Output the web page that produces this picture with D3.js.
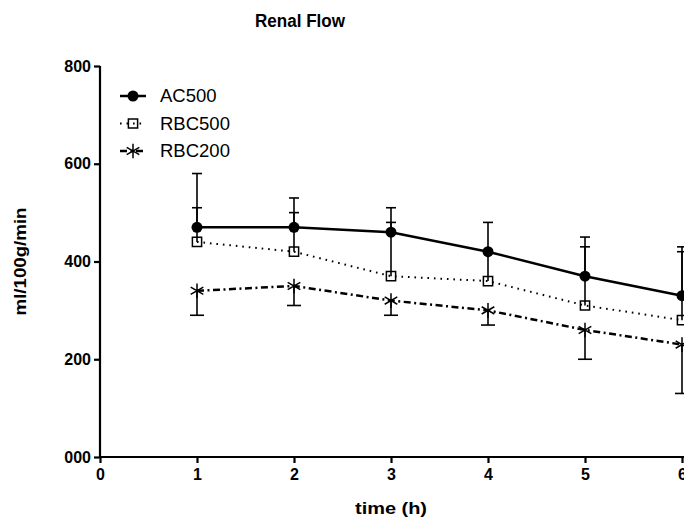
<!DOCTYPE html>
<html>
<head>
<meta charset="utf-8">
<script src="https://cdn.jsdelivr.net/npm/d3@7"></script>
<style>
  body { margin: 0; background: #fff; }
  svg { display: block; font-family: 'Liberation Sans', Arial, sans-serif; }
</style>
</head>
<body>
<script>
// values
const times = [1, 2, 3, 4, 5, 6]
const ac500 = [470, 470, 460, 420, 370, 330]
const ac500Up = [110, 60, 50, 60, 80, 100]
const rbc500 = [440, 420, 370, 360, 310, 280]
const rbc500Up = [70, 80, 110, 60, 120, 140]
const rbc200 = [340, 350, 320, 300, 260, 230]
const rbc200Down = [50, 40, 30, 30, 60, 100]
const yTicks = [0, 200, 400, 600, 800]
const yTickLabels = ['000', '200', '400', '600', '800']
const xTicks = [0, 1, 2, 3, 4, 5, 6]

const width = 684,
  height = 520,
  margin = { top: 66, bottom: 63, right: 2, left: 100 }

const series = [
  { name: 'AC500', values: ac500, err: ac500Up, dir: 1, symbol: d3.symbolCircle, size: 95, fill: '#000',
    width: 2.5, dash: null, cap: 10 },
  { name: 'RBC500', values: rbc500, err: rbc500Up, dir: 1, symbol: d3.symbolSquare, size: 85, fill: 'none',
    width: 2, dash: '1.6,4.9', cap: 10 },
  { name: 'RBC200', values: rbc200, err: rbc200Down, dir: -1, symbol: d3.symbolAsterisk, size: 150, fill: 'none',
    width: 2.5, dash: '7,3.5,2,3.5', cap: 14 },
]

const svg = d3.select('body').append('svg').attr('width', width).attr('height', height)

const x = d3.scaleLinear().domain([0, 6]).range([margin.left, width - margin.right])
const y = d3.scaleLinear().domain([0, 800]).range([height - margin.bottom, margin.top])

// axes
const xAxis = svg.append('g')
  .attr('transform', `translate(0,${y(0)})`)
  .call(d3.axisBottom(x).tickValues(xTicks).tickFormat(d3.format('d')).tickSize(6).tickPadding(6))
const yAxis = svg.append('g')
  .attr('transform', `translate(${x(0)},0)`)
  .call(d3.axisLeft(y).tickValues(yTicks).tickFormat((d, i) => yTickLabels[i]).tickSize(6).tickPadding(3))

;[xAxis, yAxis].forEach((a) => {
  a.select('.domain').attr('stroke', '#000').attr('stroke-width', 2.2)
  a.selectAll('.tick line').attr('stroke', '#000').attr('stroke-width', 2.2)
  a.selectAll('.tick text')
    .attr('fill', '#000')
    .style('font-size', '16px')
    .style('font-weight', 'bold')
})
// axis domains without the outer end ticks
xAxis.select('.domain').attr('d', `M${x(0)},0H${width}`)
yAxis.select('.domain').attr('d', `M0,${y(800)}V${y(0) + 1}`)

// error bars
series.forEach((s) => {
  const g = svg.append('g')
  times.forEach((t, i) => {
    const y0 = y(s.values[i]),
      y1 = y(s.values[i] + s.dir * s.err[i])
    g.append('line')
      .attr('x1', x(t)).attr('x2', x(t))
      .attr('y1', y0).attr('y2', y1)
      .attr('stroke', '#000').attr('stroke-width', 1.6)
    g.append('line')
      .attr('x1', x(t) - s.cap / 2).attr('x2', x(t) + s.cap / 2)
      .attr('y1', y1).attr('y2', y1)
      .attr('stroke', '#000').attr('stroke-width', 1.6)
  })
})

// lines
const line = d3.line().x((d, i) => x(times[i])).y((d) => y(d))
series.forEach((s) => {
  svg.append('path')
    .datum(s.values)
    .attr('d', line)
    .attr('fill', 'none')
    .attr('stroke', '#000')
    .attr('stroke-width', s.width)
    .attr('stroke-dasharray', s.dash)
})

// markers
series.forEach((s) => {
  svg.append('g')
    .selectAll('path')
    .data(s.values)
    .join('path')
    .attr('transform', (d, i) => `translate(${x(times[i])},${y(d)})`)
    .attr('d', d3.symbol(s.symbol, s.size))
    .attr('fill', s.fill === 'none' ? 'none' : '#000')
    .attr('stroke', '#000')
    .attr('stroke-width', s.symbol === d3.symbolCircle ? 0 : 1.5)
})

// legend
const legend = svg.append('g').attr('transform', 'translate(120,96)')
series.forEach((s, i) => {
  const row = legend.append('g').attr('transform', `translate(0,${i * 27.5})`)
  row.append('line')
    .attr('x1', 0).attr('x2', 26)
    .attr('stroke', '#000')
    .attr('stroke-width', s.width)
    .attr('stroke-dasharray', s.dash)
  row.append('path')
    .attr('transform', 'translate(13,0)')
    .attr('d', d3.symbol(s.symbol, s.size))
    .attr('fill', s.fill === 'none' ? 'none' : '#000')
    .attr('stroke', '#000')
    .attr('stroke-width', s.symbol === d3.symbolCircle ? 0 : 1.5)
  row.append('text')
    .attr('x', 40)
    .attr('dy', '0.35em')
    .style('font-size', '18.5px')
    .text(s.name)
})

// titles
svg.append('text')
  .attr('x', 300).attr('y', 27)
  .attr('text-anchor', 'middle')
  .attr('textLength', 90)
  .attr('lengthAdjust', 'spacingAndGlyphs')
  .style('font-size', '18px').style('font-weight', 'bold')
  .text('Renal Flow')

svg.append('text')
  .attr('x', (x(0) + x(6)) / 2).attr('y', 514)
  .attr('text-anchor', 'middle')
  .attr('textLength', 72)
  .attr('lengthAdjust', 'spacingAndGlyphs')
  .style('font-size', '16px').style('font-weight', 'bold')
  .text('time (h)')

svg.append('text')
  .attr('transform', `translate(26,${(y(0) + y(800)) / 2}) rotate(-90)`)
  .attr('text-anchor', 'middle')
  .attr('textLength', 108)
  .attr('lengthAdjust', 'spacingAndGlyphs')
  .style('font-size', '16px').style('font-weight', 'bold')
  .text('ml/100g/min')
</script>
</body>
</html>
